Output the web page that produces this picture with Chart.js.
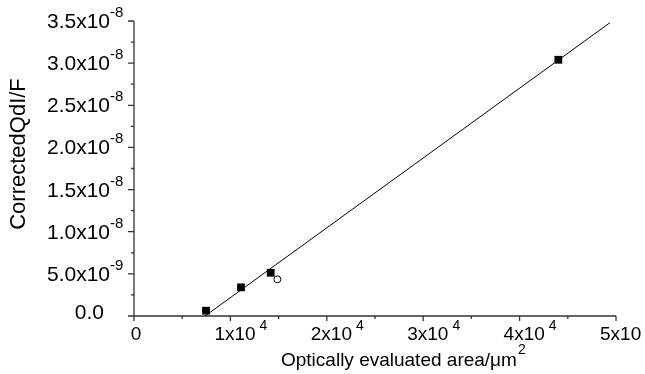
<!DOCTYPE html>
<html>
<head>
<meta charset="utf-8">
<script src="https://cdn.jsdelivr.net/npm/chart.js@4.4.0/dist/chart.umd.min.js"></script>
<style>
  html, body { margin: 0; padding: 0; background: #fff; }
  #wrap { width: 645px; height: 374px; }
</style>
</head>
<body>
<div id="wrap"><canvas id="grafico" width="645" height="374"></canvas></div>
<script>
// datos
var puntosX = [7470, 11100, 14180, 44020];
var puntosY = [0.63e-9, 3.40e-9, 5.13e-9, 30.4e-9];
var abiertoX = [14870];
var abiertoY = [4.35e-9];
var ajusteX = [7370, 49380];
var ajusteY = [0, 3.48e-8];

var xTicks = [0, 1e4, 2e4, 3e4, 4e4, 5e4];
var xTickTexto = ['0', '1x10', '2x10', '3x10', '4x10', '5x10'];
var xTickExp = ['', '4', '4', '4', '4', '4'];
var yTicks = [0, 5e-9, 1e-8, 1.5e-8, 2e-8, 2.5e-8, 3e-8, 3.5e-8];
var yTickTexto = ['0.0', '5.0x10', '1.0x10', '1.5x10', '2.0x10', '2.5x10', '3.0x10', '3.5x10'];
var yTickExp = ['', '-9', '-8', '-8', '-8', '-8', '-8', '-8'];

var tituloX = 'Optically evaluated area/\u03bcm';
var tituloXExp = '2';
var tituloY = 'CorrectedQdI/F';

var fuente = '"Liberation Sans", Arial, sans-serif';

function juntar(xs, ys) {
  return xs.map(function (x, i) { return { x: x, y: ys[i] }; });
}

// ejes al estilo Origin, dibujados a mano
var ejesPlugin = {
  id: 'ejes',
  beforeDatasetsDraw: function (chart) {
    var ctx = chart.ctx;
    var sx = chart.scales.x, sy = chart.scales.y;
    var x0 = sx.getPixelForValue(0);
    var y0 = sy.getPixelForValue(0);
    var xMax = sx.getPixelForValue(5e4);
    var yMax = sy.getPixelForValue(3.5e-8);
    ctx.save();
    ctx.strokeStyle = '#333';
    ctx.lineWidth = 1.3;
    ctx.beginPath();
    ctx.moveTo(x0, yMax);
    ctx.lineTo(x0, y0);
    ctx.moveTo(x0 - 6, y0);
    ctx.lineTo(xMax, y0);
    // ticks eje y
    yTicks.forEach(function (v, i) {
      var py = sy.getPixelForValue(v);
      ctx.moveTo(x0 - 6, py); ctx.lineTo(x0, py);
      if (i < yTicks.length - 1) {
        var pm = sy.getPixelForValue(v + 2.5e-9);
        ctx.moveTo(x0 - 3, pm); ctx.lineTo(x0, pm);
      }
    });
    // ticks eje x
    xTicks.forEach(function (v, i) {
      var px = sx.getPixelForValue(v);
      ctx.moveTo(px, y0); ctx.lineTo(px, y0 + 5);
      if (i < xTicks.length - 1) {
        var pm = sx.getPixelForValue(v + 5e3);
        ctx.moveTo(pm, y0); ctx.lineTo(pm, y0 + 3);
      }
    });
    ctx.stroke();

    ctx.fillStyle = '#000';
    ctx.textBaseline = 'alphabetic';
    // etiquetas eje y
    yTicks.forEach(function (v, i) {
      var py = sy.getPixelForValue(v);
      if (yTickExp[i]) {
        ctx.font = '21px ' + fuente;
        ctx.textAlign = 'right';
        ctx.fillText(yTickTexto[i], x0 - 24, py + 7);
        ctx.font = '15px ' + fuente;
        ctx.textAlign = 'left';
        ctx.fillText(yTickExp[i], x0 - 24, py - 4);
      } else {
        ctx.font = '21px ' + fuente;
        ctx.textAlign = 'right';
        ctx.fillText(yTickTexto[i], x0 - 30, py + 3);
      }
    });
    // etiquetas eje x
    xTicks.forEach(function (v, i) {
      var px = sx.getPixelForValue(v);
      ctx.font = '19px ' + fuente;
      if (xTickExp[i]) {
        ctx.textAlign = 'left';
        ctx.fillText(xTickTexto[i], px - 16, y0 + 24);
        var w = ctx.measureText(xTickTexto[i]).width;
        ctx.font = '14px ' + fuente;
        ctx.fillText(xTickExp[i], px - 16 + w + 4, y0 + 14);
      } else {
        ctx.textAlign = 'center';
        ctx.fillText(xTickTexto[i], px + 2, y0 + 24);
      }
    });
    // titulos
    ctx.font = '19px ' + fuente;
    ctx.textAlign = 'left';
    ctx.fillText(tituloX, 281, 366);
    var wt = ctx.measureText(tituloX).width;
    ctx.font = '14px ' + fuente;
    ctx.fillText(tituloXExp, 281 + wt + 1, 354);

    ctx.translate(25, 154);
    ctx.rotate(-Math.PI / 2);
    ctx.font = '22px ' + fuente;
    ctx.textAlign = 'center';
    ctx.fillText(tituloY, 0, 0);
    ctx.restore();
  }
};

var ctx = document.getElementById('grafico').getContext('2d');
var myChart = new Chart(ctx, {
  type: 'scatter',
  data: {
    datasets: [{
      type: 'line',
      label: 'ajuste',
      data: juntar(ajusteX, ajusteY),
      borderColor: '#000',
      borderWidth: 1,
      pointRadius: 0,
      fill: false,
      clip: false
    }, {
      label: 'medidos',
      data: juntar(puntosX, puntosY),
      pointStyle: 'rect',
      pointRadius: 5.5,
      backgroundColor: '#000',
      borderColor: '#000',
      borderWidth: 0,
      clip: false
    }, {
      label: 'abierto',
      data: juntar(abiertoX, abiertoY),
      pointStyle: 'circle',
      pointRadius: 3.5,
      backgroundColor: '#fff',
      borderColor: '#000',
      borderWidth: 1,
      clip: false
    }]
  },
  options: {
    responsive: false,
    animation: false,
    layout: { padding: { left: 134, right: 29, top: 21, bottom: 58 } },
    plugins: { legend: { display: false }, tooltip: { enabled: false } },
    scales: {
      x: { type: 'linear', min: 0, max: 5e4, display: false },
      y: { type: 'linear', min: 0, max: 3.5e-8, display: false }
    }
  },
  plugins: [ejesPlugin]
});
</script>
</body>
</html>
